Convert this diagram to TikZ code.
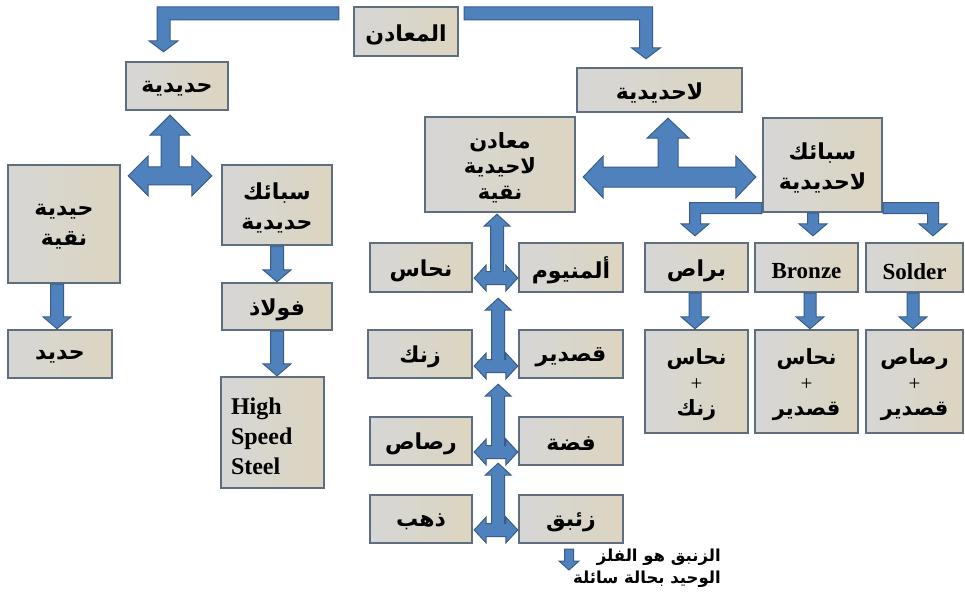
\documentclass[tikz,border=0pt]{standalone}
\usepackage{fontspec}
\setmainfont{Liberation Serif}
\newfontfamily\arfont[Script=Arabic]{DejaVu Sans}
\TeXXeTstate=1
\usetikzlibrary{calc}
\definecolor{arrf}{HTML}{4F81BD}
\definecolor{arrd}{HTML}{385D8A}
\definecolor{boxl}{HTML}{D6D6D6}
\definecolor{boxr}{HTML}{DDD5C0}
\definecolor{boxd}{HTML}{5F6E7E}
\newcommand{\AR}[1]{{\arfont\bfseries\raisebox{-3pt}[\height][\depth]{\beginR #1\endR}}}
\newcommand{\dn}[1]{\raisebox{-4pt}[\height][\depth]{#1}}
\newcommand{\mkbox}[7][]{\node[bx,#1,minimum width={#5-#3},minimum height={#6-#4}] (#2) at ({(#3+#5)/2},{(#4+#6)/2}) {#7};}
% down arrow: start, tip, half thickness, half head width, head length
\newcommand{\darr}[5]{\path[blockarr] let \p1=(#1), \p2=(#2) in (\x1-#3,\y1) -- (\x1-#3,\y2+#5) -- (\x1-#4,\y2+#5) -- (\x1,\y2) -- (\x1+#4,\y2+#5) -- (\x1+#3,\y2+#5) -- (\x1+#3,\y1) -- cycle;}
\newcommand{\elbowL}[5]{\path[blockarr] let \p1=(#1), \p2=(#2) in (\x1,\y1+#3) -- (\x2-#3,\y1+#3) -- (\x2-#3,\y2+#5) -- (\x2-#4,\y2+#5) -- (\x2,\y2) -- (\x2+#4,\y2+#5) -- (\x2+#3,\y2+#5) -- (\x2+#3,\y1-#3) -- (\x1,\y1-#3) -- cycle;}
\newcommand{\elbowR}[5]{\path[blockarr] let \p1=(#1), \p2=(#2) in (\x1,\y1+#3) -- (\x2+#3,\y1+#3) -- (\x2+#3,\y2+#5) -- (\x2+#4,\y2+#5) -- (\x2,\y2) -- (\x2-#4,\y2+#5) -- (\x2-#3,\y2+#5) -- (\x2-#3,\y1-#3) -- (\x1,\y1-#3) -- cycle;}
% three-way arrow: left tip, right tip, top tip, t, h, l
\newcommand{\triarr}[6]{\path[blockarr] let \p1=(#1), \p2=(#2), \p3=(#3) in (\x1,\y1) -- (\x1+#6,\y1+#5) -- (\x1+#6,\y1+#4) -- (\x3-#4,\y1+#4) -- (\x3-#4,\y3-#6) -- (\x3-#5,\y3-#6) -- (\x3,\y3) -- (\x3+#5,\y3-#6) -- (\x3+#4,\y3-#6) -- (\x3+#4,\y1+#4) -- (\x2-#6,\y1+#4) -- (\x2-#6,\y1+#5) -- (\x2,\y1) -- (\x2-#6,\y1-#5) -- (\x2-#6,\y1-#4) -- (\x1+#6,\y1-#4) -- (\x1+#6,\y1-#5) -- cycle;}
\tikzset{
  bx/.style={draw=boxd, line width=2.4pt, left color=boxl, right color=boxr, inner sep=0pt, align=center, text=black, font=\fontsize{22}{30}\selectfont},
  blockarr/.style={fill=arrf, draw=arrd, line width=1pt, line join=miter},
  en/.style={font=\fontsize{23}{30}\selectfont\bfseries},
  tight/.style={font=\fontsize{21}{25.5}\selectfont},
}
\begin{document}
\begin{tikzpicture}[x=1pt,y=-1pt]
\useasboundingbox[fill=white] (0,0) rectangle (965,605);
% boxes
\mkbox{root}{354}{7}{458}{56}{\AR{المعادن}}
\mkbox{fer}{126}{62}{228}{110}{\AR{حديدية}}
\mkbox{nonfer}{577}{68}{742}{112}{\AR{لاحديدية}}
\mkbox[tight]{purenf}{425}{117}{575}{212}{\AR{معادن}\\\AR{لاحيدية}\\\AR{نقية}}
\mkbox{alloynf}{763}{118}{882}{212}{\AR{سبائك}\\\AR{لاحديدية}}
\mkbox{purefe}{8}{165}{120}{283}{\AR{حيدية}\\\AR{نقية}}
\mkbox{alloyfe}{222}{165}{332}{245}{\AR{سبائك}\\\AR{حديدية}}
\mkbox{steel}{222}{283}{332}{330}{\AR{فولاذ}}
\mkbox{iron}{8}{330}{112}{378}{\AR{حديد}}
\mkbox[en,font=\fontsize{24}{30}\selectfont\bfseries,align=left,text width=83pt]{hss}{221}{377}{324}{488}{\dn{High}\\\dn{Speed}\\\dn{Steel}}
\mkbox{cu}{370}{243}{472}{292}{\AR{نحاس}}
\mkbox{al}{519}{243}{623}{292}{\AR{ألمنيوم}}
\mkbox{zn}{368}{330}{472}{378}{\AR{زنك}}
\mkbox{sn}{519}{330}{623}{378}{\AR{قصدير}}
\mkbox{pb}{370}{417}{472}{465}{\AR{رصاص}}
\mkbox{ag}{519}{417}{623}{465}{\AR{فضة}}
\mkbox{au}{370}{495}{472}{543}{\AR{ذهب}}
\mkbox{hg}{519}{495}{623}{543}{\AR{زئبق}}
\mkbox{brass}{645}{243}{748}{292}{\AR{براص}}
\mkbox[en]{bronze}{755}{243}{858}{292}{\dn{Bronze}}
\mkbox[en]{solder}{866}{243}{963}{292}{\dn{Solder}}
\mkbox[tight]{cuzn}{645}{330}{748}{433}{\AR{نحاس}\\\dn{+}\\\AR{زنك}}
\mkbox[tight]{cusn}{755}{330}{858}{433}{\AR{نحاس}\\\dn{+}\\\AR{قصدير}}
\mkbox[tight]{pbsn}{866}{330}{963}{433}{\AR{رصاص}\\\dn{+}\\\AR{قصدير}}
\node[anchor=north east, align=right, inner sep=0pt, font=\fontsize{16.5}{22}\selectfont] (note) at (721,546) {\AR{الزنبق هو الفلز}\\\AR{الوحيد بحالة سائلة}};
\coordinate (nt) at (569,549);
% arrows
\elbowL{$(root.north west)+(-14,7.5)$}{$(fer.north)+(-13.5,-9)$}{6.5pt}{14.5pt}{11pt}
\elbowR{$(root.north east)+(5,7.5)$}{$(nonfer.north)+(-13.5,-8)$}{6.5pt}{14.5pt}{11pt}
\triarr{$(purefe.north east)+(7,12)$}{$(alloyfe.north west)+(-9,12)$}{$(fer.south)+(-7,4)$}{9pt}{20pt}{20pt}
\triarr{$(purenf.east)+(7,12.5)$}{$(alloynf.west)+(-6,12)$}{$(nonfer.south)+(8.5,5)$}{10pt}{21pt}{20pt}
\triarr{$(cu.east)+(1,10.5)$}{$(al.west)+(0,10.5)$}{$(purenf.south)+(-3,1)$}{6.5pt}{13pt}{12pt}
\triarr{$(zn.east)+(1,12)$}{$(sn.west)+(0,12)$}{$(cu.south east)+(25,5)$}{6.5pt}{13pt}{12pt}
\triarr{$(pb.east)+(1,11)$}{$(ag.west)+(0,11)$}{$(zn.south east)+(25,5)$}{6.5pt}{13pt}{12pt}
\triarr{$(au.east)+(1,11)$}{$(hg.west)+(0,11)$}{$(pb.south east)+(25,-3)$}{6.5pt}{13pt}{12pt}
\darr{$(purefe.south)+(-7,0)$}{iron.north}{6.5pt}{14pt}{12pt}
\darr{alloyfe.south}{steel.north}{6.5pt}{14pt}{12pt}
\darr{steel.south}{hss.north}{6.5pt}{14pt}{12pt}
\elbowL{$(alloynf.south west)+(0,-5)$}{$(brass.north)+(-1.5,-6)$}{5.5pt}{14pt}{12pt}
\darr{$(alloynf.south)+(-9.5,0)$}{$(bronze.north)+(0,-6)$}{5.5pt}{14pt}{12pt}
\elbowR{$(alloynf.south east)+(0,-5)$}{$(solder.north)+(18.5,-6)$}{5.5pt}{14pt}{12pt}
\darr{$(brass.south)+(-1.5,0)$}{cuzn.north}{6pt}{14pt}{12pt}
\darr{$(bronze.south)+(3.5,0)$}{cusn.north}{6pt}{14pt}{12pt}
\darr{$(solder.south)+(-1.5,0)$}{pbsn.north}{6pt}{14pt}{12pt}
\darr{nt}{$(nt)+(0,21)$}{4.5pt}{10pt}{9pt}
\end{tikzpicture}
\end{document}
